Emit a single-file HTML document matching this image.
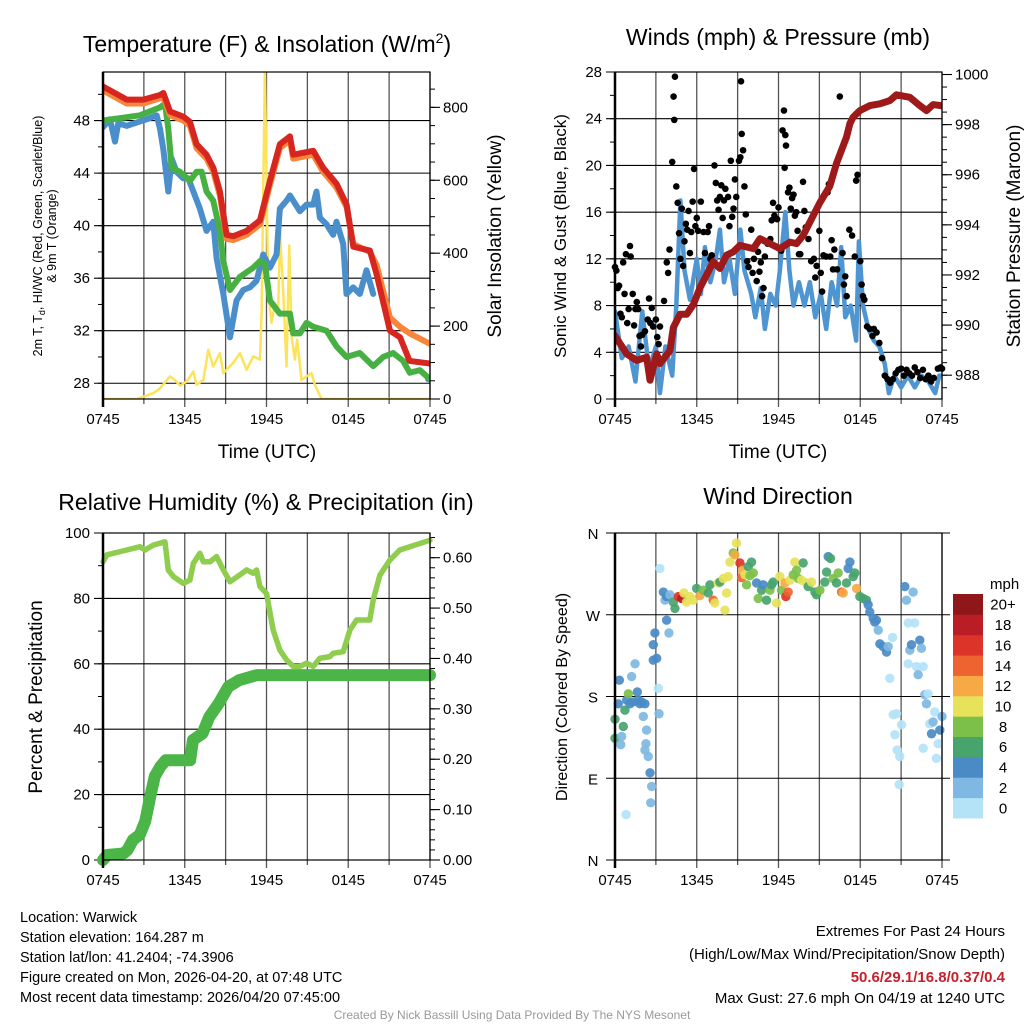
<!DOCTYPE html>
<html><head><meta charset="utf-8">
<style>
html,body{margin:0;padding:0;background:#fff;}
svg{display:block;font-family:"Liberation Sans",Arial,sans-serif;}
</style></head>
<body>
<svg id="fig" width="1024" height="1024" viewBox="0 0 1024 1024" xmlns="http://www.w3.org/2000/svg">
<rect x="0" y="0" width="1024" height="1024" fill="#fff"/>
<g id="layer"></g>
<text x="267" y="52" font-size="23" text-anchor="middle">Temperature (F) &amp; Insolation (W/m<tspan dy="-9" font-size="14">2</tspan><tspan dy="9">)</tspan></text>
<text x="778" y="45" font-size="23" text-anchor="middle">Winds (mph) &amp; Pressure (mb)</text>
<text x="266" y="510" font-size="23" text-anchor="middle">Relative Humidity (%) &amp; Precipitation (in)</text>
<text x="778" y="504" font-size="23" text-anchor="middle">Wind Direction</text>
<text transform="translate(42,236) rotate(-90)" font-size="12.5" text-anchor="middle">2m T, T<tspan dy="3" font-size="9">d</tspan><tspan dy="-3">, HI/WC (Red, Green, Scarlet/Blue)</tspan></text>
<text transform="translate(56,236) rotate(-90)" font-size="12.5" text-anchor="middle">&amp; 9m T (Orange)</text>
<text transform="translate(501,236) rotate(-90)" font-size="19" text-anchor="middle">Solar Insolation (Yellow)</text>
<text x="267" y="458" font-size="19" text-anchor="middle">Time (UTC)</text>
<text transform="translate(566,236) rotate(-90)" font-size="17" text-anchor="middle">Sonic Wind &amp; Gust (Blue, Black)</text>
<text transform="translate(1020,236) rotate(-90)" font-size="19" text-anchor="middle">Station Pressure (Maroon)</text>
<text x="778" y="458" font-size="19" text-anchor="middle">Time (UTC)</text>
<text transform="translate(42,697) rotate(-90)" font-size="19" text-anchor="middle">Percent &amp; Precipitation</text>
<text transform="translate(567,697) rotate(-90)" font-size="16" text-anchor="middle">Direction (Colored By Speed)</text>
<g font-size="14.5">
<text x="20" y="922">Location: Warwick</text>
<text x="20" y="942">Station elevation: 164.287 m</text>
<text x="20" y="962">Station lat/lon: 41.2404; -74.3906</text>
<text x="20" y="982">Figure created on Mon, 2026-04-20, at 07:48 UTC</text>
<text x="20" y="1002">Most recent data timestamp: 2026/04/20 07:45:00</text>
</g>
<g font-size="15" text-anchor="end">
<text x="1005" y="936">Extremes For Past 24 Hours</text>
<text x="1005" y="959">(High/Low/Max Wind/Precipitation/Snow Depth)</text>
<text x="1005" y="982" fill="#c8202a" font-weight="bold">50.6/29.1/16.8/0.37/0.4</text>
<text x="1005" y="1003">Max Gust: 27.6 mph On 04/19 at 1240 UTC</text>
</g>
<text x="512" y="1019" font-size="12" fill="#999" text-anchor="middle">Created By Nick Bassill Using Data Provided By The NYS Mesonet</text>
</svg>
<script>
const xTickLabels = ["0745","1345","1945","0145","0745"];
const redT = [0,1.74,2.96,4.18,4.43,4.92,5.9,6.38,6.87,7.6,8.1,8.58,9.07,9.56,10.54,11.52,11.88,12.25,12.98,13.72,13.96,15.43,16.16,17.14,17.88,18.37,19.59,20.08,21.06,21.8,22.5,24];
const redV = [50.6,49.6,49.6,49.95,50.1,48.7,48.3,47.9,46.2,45.4,44.4,42.6,39.3,39.2,39.6,40.4,41.9,43.4,46.2,46.8,45.4,45.7,44.4,43.2,41.6,38.4,38.1,36.3,32,31.5,29.7,29.5];
const orangeV = [50.3,49.3,49.3,49.7,49.8,48.4,48.0,47.6,45.9,45.1,44.1,42.3,39.0,38.9,39.3,40.1,41.6,43.1,45.9,46.5,45.1,45.4,44.1,42.9,41.4,38.6,38.0,37.0,33.0,32.3,31.8,31.0];
const greenT = [0,2.71,4.18,4.55,4.79,5.04,5.65,6.38,6.87,7.24,7.6,8.09,8.58,8.83,9.32,10.05,11.03,11.52,11.88,12.25,12.98,13.72,13.96,14.45,14.94,15.43,16.41,17.14,17.87,18.85,19.83,20.56,21.3,22.03,22.52,23.25,24];
const greenV = [48.0,48.4,49.0,49.3,47.4,44.4,44.1,43.4,44.1,44.1,42.6,41.9,39.6,37.3,35.1,36.1,36.8,37.3,37.1,34.3,33.3,33.3,31.8,31.8,32.6,32.3,32.0,30.8,30.0,30.3,29.3,30.0,30.3,29.7,28.8,29.0,28.3];
const blueT = [0,0.51,0.88,1.12,1.74,3.2,3.94,4.18,4.43,4.79,5.04,5.4,5.89,6.26,6.63,7.11,7.6,8.09,8.34,8.83,9.32,9.8,10.29,10.78,11.27,11.76,12.25,12.74,12.98,13.47,13.72,14.45,14.94,15.43,15.67,15.92,16.41,16.89,17.14,17.63,17.87,18.36,18.85,19.34,19.83,21,23.86,24];
const blueV = [47.5,48.1,46.4,47.8,47.6,48.1,48.4,47.4,45.8,42.6,45.1,44.1,43.6,43.6,42.6,41.3,39.6,40.3,37.5,34.8,31.5,34.3,35.1,35.3,35.8,37.8,36.8,37.8,41.3,41.9,42.3,41.1,41.6,41.6,42.6,40.6,40.1,39.3,40.3,38.6,34.8,35.3,34.8,36.6,34.8,null,28.3,28.3];
const solarT = [0,2.47,3.69,4.18,4.91,5.28,5.65,6.14,6.63,6.87,7.36,7.73,8.09,8.58,8.83,9.56,10.05,10.54,11.03,11.52,11.64,11.88,12.13,12.37,12.62,12.86,12.98,13.23,13.47,13.67,13.84,14.08,14.25,14.57,14.94,15.31,15.55,16.04,24];
const solarV = [0,0,16,29,62,52,37,48,75,39,52,135,89,126,71,99,126,80,117,108,237,900,292,209,264,237,462,292,89,421,172,108,163,52,62,71,39,0,0];
const windT = [0,0.5,1,1.5,2,2.5,3,3.3,3.7,4.2,4.5,4.8,5.1,5.5,6,6.3,6.6,7,7.4,7.7,8,8.4,8.8,9.2,9.5,10,10.3,10.7,11,11.4,11.8,12.1,12.5,12.8,13.1,13.5,13.9,14.3,14.7,15.1,15.5,15.9,16.3,16.6,16.9,17.3,17.7,17.9,18.2,18.6,19,19.4,19.8,20.1,20.5,21,21.5,22,22.5,23,23.5,23.8,24];
const windV = [7.5,3.5,4.5,1.5,7.5,2.5,4.5,0.5,4.5,2,8,17,11,8.5,12,9,13,10,12,14.5,10,12,9,14.5,11,9,7,9.5,6,9,8,11,16,11,8,10,8,10,7,9,6,10,8,13,7,8,5,13.5,8,6,5,4.5,3,0.5,2,1,2,1,2,1.5,0.5,2,2];
const gustT = [0,0.1,0.2,0.3,0.4,0.5,0.6,0.7,0.8,0.9,1,1.1,1.15,1.3,1.4,1.5,1.6,1.7,1.8,1.9,2,2.2,2.4,2.5,2.6,2.7,2.8,3,3.1,3.2,3.3,3.6,3.8,3.9,4,4.2,4.3,4.35,4.4,4.5,4.6,4.7,4.8,4.9,5,5.1,5.2,5.3,5.4,5.5,5.6,5.7,5.8,5.9,6,6.1,6.3,6.5,6.6,6.8,6.9,7,7.1,7.3,7.4,7.5,7.6,7.7,7.8,7.9,8,8.1,8.3,8.4,8.5,8.6,8.7,8.8,8.9,9.1,9.2,9.25,9.3,9.4,9.5,9.6,9.7,9.8,10,10.1,10.2,10.4,10.5,10.6,10.7,10.8,10.9,11,11.2,11.4,11.5,11.6,11.7,11.9,12,12.2,12.3,12.4,12.5,12.55,12.45,12.7,12.8,12.9,13,13.1,13.2,13.3,13.4,13.5,13.6,13.8,13.9,14,14.2,14.4,14.6,14.7,14.8,15,15.1,15.2,15.3,15.5,15.6,15.7,15.8,15.9,16,16.1,16.3,16.5,16.7,16.8,16.9,17,17.2,17.4,17.6,17.7,17.8,18,18.1,18.2,18.3,18.5,18.7,18.9,19,19.2,19.4,19.6,19.8,20,20.2,20.4,20.6,20.8,21,21.2,21.4,21.6,21.8,22,22.2,22.4,22.6,22.8,23,23.2,23.4,23.7,23.9,24];
const gustV = [11.3,11,9.5,9.7,7.3,7,11.7,9,12.4,6.5,7.7,13.1,12.2,9,6.3,7.7,8.3,7.7,5.4,4.5,5.5,5.8,6.8,8.6,6.5,7.8,6.2,6.8,5.3,4.7,6.2,8.4,11.7,10.8,12.8,20.3,25.9,23.9,27.6,18.2,16.8,14.2,12,16.3,11.4,13.5,15,14.5,16.1,12.5,14.3,16.9,19.7,14.8,15.5,14.4,16.9,14.3,12.5,14.3,14.8,12,12.3,20,18.5,17,16.2,17.3,18.3,15.5,17,18,17.3,14.8,20.4,15.6,16.3,18.8,17.3,20.4,20.7,27.2,22.7,21.3,18.2,15.8,11.8,11.3,14.5,10.8,12,10.1,12.6,10.9,11.7,8.8,9.5,12.2,13.3,13.7,15.3,16.8,15.7,15.4,16.4,12.7,23,24.7,22.6,21.7,19.8,17.7,18.1,16.3,17.2,17.5,15.7,16,14.4,12.4,12.4,18.6,16.1,14.7,13.7,11.8,12,10.4,11.4,14.4,10.8,9.2,12.3,12.2,17.7,18.4,12.2,13.6,11.1,12.8,11.1,25.9,12.5,9.8,10.5,8.8,14.5,14,12.2,18.7,19.2,11.8,9.8,8.8,8.5,6.2,6,5.4,6,5.7,4.8,3.5,2,1.7,1.4,1.7,2.2,2.5,2.6,2,2.5,2.2,2,2.7,2.3,1.8,2.5,1.7,2,1.5,1.8,2.6,2.7,2.6];
const presT = [0,0.86,1.59,2.32,2.57,3.06,3.3,4.03,4.28,4.77,5.26,5.75,6.23,6.72,7.21,7.7,8.19,8.68,9.17,10.15,10.64,11.37,12.1,12.84,13.33,13.81,14.55,15.04,15.77,16.26,16.99,17.24,17.48,17.97,18.7,19.44,20.17,20.66,21.64,22.37,22.86,23.35,24];
const presV = [989.57,988.85,988.59,988.72,987.8,988.85,988.46,988.98,989.9,990.43,990.43,990.82,991.48,992.0,992.53,992.26,992.79,992.92,993.18,993.05,993.45,993.25,993.05,993.31,993.25,993.58,994.37,994.89,995.55,996.46,997.5,998.04,998.3,998.56,998.76,998.83,998.96,999.19,999.09,998.76,998.56,998.8,998.75];
const rhT = [0,0.27,1.25,2.71,3.08,3.69,4.55,4.79,5.16,5.89,6.38,6.63,7.11,7.36,7.85,8.34,8.83,9.32,10.05,10.54,11.03,11.27,11.52,12.0,12.49,12.98,13.47,13.96,14.45,14.94,15.43,15.92,16.65,16.89,17.63,18.12,18.61,19.58,19.83,20.32,21.05,21.78,22.52,24];
const rhV = [91.2,93.3,94.3,95.8,94.8,96.3,97.3,88.7,86.7,84.6,85.6,90.7,93.8,91.2,91.2,92.8,88.7,85.1,87.2,88.7,87.7,88.7,83.6,81.5,70.3,64.2,61.2,59.2,59.2,60.2,59.2,61.7,62.2,63.2,63.7,70.3,73.4,73.4,79.5,87.1,91.7,94.8,95.8,97.8];
const precipT = [0,0.3,1.5,1.8,2.2,2.7,3.1,3.5,3.8,4.2,4.6,6.4,6.6,7.3,7.8,8.5,9.2,10.0,11.3,24];
const precipV = [0,0.01,0.013,0.02,0.04,0.05,0.077,0.13,0.166,0.185,0.198,0.198,0.238,0.251,0.284,0.311,0.344,0.357,0.367,0.367];
const dirT = [0,0,0.24,0.32,0.49,0.42,0.61,0.73,0.81,0.86,0.98,1.1,1.22,1.34,1.47,1.64,1.71,1.83,1.96,2.08,2.2,2.32,2.27,2.2,2.44,2.57,2.69,2.62,2.81,2.81,2.93,3.06,3.18,3.23,3.3,3.55,3.67,3.79,3.96,3.79,4.03,4.28,4.4,4.65,4.89,5.06,5.26,5.5,5.75,5.99,6.23,6.48,6.85,6.97,7.21,7.33,7.58,7.7,7.95,8.07,8.19,8.31,8.44,8.68,8.8,8.92,9.17,9.29,9.36,9.54,9.66,9.78,9.9,10.02,10.15,10.39,10.51,10.76,10.88,11.12,11.37,11.49,11.61,11.86,12.1,12.22,12.47,12.54,12.71,12.84,13.08,13.2,13.33,13.45,13.69,13.81,14.06,14.18,14.43,14.67,14.79,15.04,15.4,15.53,15.65,15.82,16.01,16.26,16.38,16.63,16.75,16.99,17.11,17.24,17.48,17.6,17.73,17.97,18.22,18.46,18.58,18.7,18.95,19.07,19.19,19.32,19.44,19.68,19.93,20.05,20.17,20.37,20.42,20.54,20.66,20.71,20.86,20.9,21.03,21.27,21.39,21.52,21.64,21.76,21.88,22.0,21.52,22.13,22.25,22.37,22.49,22.62,22.74,22.86,22.98,23.1,22.62,23.23,23.35,23.47,23.59,23.72,23.84,24];
const dirV = [155,134,172,198,136,127,147,165,50,176,183,172,202,174,216,185,176,172,174,158,172,143,128,121,114,96,81,63,220,237,250,222,189,161,321,295,286,264,250,290,292,284,277,290,288,294,284,290,286,299,291,297,294,303,286,283,305,306,310,275,294,312,328,338,336,349,327,311,319,314,303,323,313,328,316,305,288,297,303,286,297,303,306,283,312,297,305,290,295,308,314,328,319,310,308,327,305,301,306,295,292,297,306,317,334,332,310,305,316,295,294,305,321,328,312,316,299,290,288,286,281,273,266,262,264,253,238,235,229,235,200,245,160,138,161,121,83,114,149,301,286,261,231,237,295,261,216,213,204,242,233,213,182,172,183,150,123,139,152,163,112,128,143,158];
const dirSpd = [7,7,4,4,3,2,6,7,1,4,8,4,3,4,3,5,4,4,5,3,5,3,3,3,3,5,3,3,5,5,5,5,1,2,1,4,3,5,3,5,3,7,7,16,18,11,10,10,10,7,12,8,7,7,14,11,10,6,10,10,10,10,10,9,12,10,17,15,12,10,9,6,8,6,8,5,8,6,4,6,8,7,6,10,10,9,12,16,15,11,8,10,9,8,10,7,11,6,10,7,6,8,6,6,5,6,8,7,8,14,13,6,5,5,6,6,12,7,6,6,5,4,4,5,4,3,4,4,4,3,1,1,1,1,1,1,1,1,1,4,3,1,3,4,3,1,1,1,3,4,3,1,3,3,1,1,1,4,3,1,1,1,4,3];
const colorBarLabels = ["0","2","4","6","8","10","12","14","16","18","20+"];
const colorBarColors = ["#b4e2f6","#7fb8e2","#4a8bc6","#48a46d","#7cc04a","#e6e25a","#f6a945","#ee6430","#dc3429","#bb1d26","#8f171a"];

const NS = "http://www.w3.org/2000/svg";
const layer = document.getElementById("layer");
function mk(tag, attrs, parent){
  const e = document.createElementNS(NS, tag);
  for (const k in attrs) e.setAttribute(k, attrs[k]);
  (parent||layer).appendChild(e);
  return e;
}
function lin(d0,d1,r0,r1){ return v => r0 + (v-d0)/(d1-d0)*(r1-r0); }
function frame(b, name){
  const xs = lin(0,24,b.x0,b.x1);
  for (let h=0; h<=24; h+=3){
    const x = xs(h);
    const g = mk("line",{x1:x,x2:x,y1:b.y0,y2:b.y1+(h%6===0?8:5),stroke:"#555","stroke-width":1.3});
    
    
  }
  xTickLabels.forEach((lab,i)=>{
    const t = mk("text",{x:xs(i*6),y:b.y1+25,"font-size":15,"text-anchor":"middle"});
    t.textContent = lab;
    
    
  });
  return xs;
}
function leftAxis(b, name, d0, d1, step, minor, labels, fmt){
  const ys = lin(d0,d1,b.y1,b.y0);
  for (let v=Math.ceil(d0/minor)*minor; v<=d1+1e-9; v+=minor){
    const y = ys(v);
    const tk = mk("line",{x1:b.x0-5,x2:b.x0,y1:y,y2:y,stroke:"#000","stroke-width":1});
    
    
  }
  labels.forEach(v=>{
    const y = ys(v);
    const gl = mk("line",{x1:b.x0-9,x2:b.x1,y1:y,y2:y,stroke:"#000","stroke-width":1.1});
    
    
    const t = mk("text",{x:b.x0-13,y:y+5,"font-size":15,"text-anchor":"end"});
    t.textContent = fmt ? fmt(v) : v;
    
    
  });
  return ys;
}
function rightAxis(b, name, d0, d1, labels, minor, fmt){
  const ys = lin(d0,d1,b.y1,b.y0);
  for (let v=Math.ceil(d0/minor)*minor; v<=d1+1e-9; v+=minor){
    const y = ys(v);
    const tk = mk("line",{x1:b.x1,x2:b.x1+5,y1:y,y2:y,stroke:"#000","stroke-width":1});
    
    
  }
  labels.forEach(v=>{
    const y = ys(v);
    const tk = mk("line",{x1:b.x1,x2:b.x1+10,y1:y,y2:y,stroke:"#000","stroke-width":1.1});
    
    
    const t = mk("text",{x:b.x1+13,y:y+5,"font-size":15});
    t.textContent = fmt ? fmt(v) : v;
    
    
  });
  return ys;
}
function border(b, name){
  const r = mk("rect",{x:b.x0,y:b.y0,width:b.x1-b.x0,height:b.y1-b.y0,fill:"none",stroke:"#000","stroke-width":1.2});
  
  
  const l = mk("line",{x1:b.x0,x2:b.x0,y1:b.y0,y2:b.y1+8,stroke:"#000","stroke-width":2.5});
  
  
}
function series(T, V, xs, ys, color, w, name, clip){
  let d = "", pen = false;
  for (let i=0;i<T.length;i++){
    if (V[i]===null){ pen=false; continue; }
    const x = xs(T[i]), y = ys(V[i]);
    d += (pen?"L":"M") + x.toFixed(2) + " " + y.toFixed(2) + " ";
    pen = true;
  }
  const p = mk("path",{d:d,fill:"none",stroke:color,"stroke-width":w,"stroke-linejoin":"round","stroke-linecap":"round"});
  if (clip) p.setAttribute("clip-path", clip);
  
  
  return p;
}
function clipFor(b, id){
  let defs = document.getElementById("defs") || mk("defs",{id:"defs"});
  const c = mk("clipPath",{id:id}, defs);
  mk("rect",{x:b.x0,y:b.y0,width:b.x1-b.x0,height:b.y1-b.y0}, c);
  return "url(#"+id+")";
}

const B1 = {x0:103,x1:430,y0:72,y1:399};
const xs1 = frame(B1,"temperature");
const ys1 = leftAxis(B1,"temperature",26.8,51.7,4,2,[28,32,36,40,44,48]);
const ys1r = rightAxis(B1,"insolation",0,897,[0,200,400,600,800],50);
const c1 = clipFor(B1,"c1");
series(solarT, solarV, xs1, ys1r, "#fde35a", 2.5, "solar-insolation-line", c1);
series(blueT, blueV, xs1, ys1, "#4a8fcb", 6, "heat-index-windchill-line", c1);
series(greenT, greenV, xs1, ys1, "#47b043", 6, "dewpoint-line", c1);
series(redT, orangeV, xs1, ys1, "#f8863a", 6, "temperature-9m-line", c1);
series(redT, redV, xs1, ys1, "#d7261f", 6, "temperature-2m-line", c1);
border(B1,"temperature");

const B2 = {x0:615,x1:942,y0:72,y1:399};
const xs2 = frame(B2,"winds");
const ys2 = leftAxis(B2,"winds",0,28,4,2,[0,4,8,12,16,20,24,28]);
const ys2r = rightAxis(B2,"pressure",987.05,1000.1,[988,990,992,994,996,998,1000],0.5);
const c2 = clipFor(B2,"c2");
series(windT, windV, xs2, ys2, "#4e95d1", 4.5, "sonic-wind-line", c2);
gustT.forEach((t,i)=>{
  const c = mk("circle",{cx:xs2(t),cy:ys2(gustV[i]),r:3.3,fill:"#000"});
  
  
});
series(presT, presV, xs2, ys2r, "#9e1a1a", 7, "station-pressure-line", c2);
border(B2,"winds");

const B3 = {x0:103,x1:430,y0:533,y1:860};
const xs3 = frame(B3,"humidity");
const ys3 = leftAxis(B3,"humidity",0,100,20,10,[0,20,40,60,80,100]);
const ys3r = rightAxis(B3,"precipitation",0,0.649,[0,0.1,0.2,0.3,0.4,0.5,0.6],0.02,v=>v.toFixed(2));
series(rhT, rhV, xs3, ys3, "#8fcd4f", 5.5, "relative-humidity-line");
series(precipT, precipV, xs3, ys3r, "#4bb647", 12, "precipitation-line");
border(B3,"humidity");

const B4 = {x0:615,x1:942,y0:533,y1:860};
const xs4 = frame(B4,"direction");
const ys4 = lin(0,360,B4.y1,B4.y0);
["N","E","S","W","N"].forEach((lab,i)=>{
  const y = ys4(i*90);
  const gl = mk("line",{x1:B4.x0-9,x2:B4.x1+8,y1:y,y2:y,stroke:"#000","stroke-width":1.1});
  
  
  const t = mk("text",{x:B4.x0-22,y:y+6,"font-size":15,"text-anchor":"middle"});
  t.textContent = lab;
  
  
});
dirT.forEach((t,i)=>{
  const bin = Math.min(10, Math.floor(dirSpd[i]/2));
  const c = mk("circle",{cx:xs4(t),cy:ys4(dirV[i]),r:4.7,fill:colorBarColors[bin],"fill-opacity":0.92});
  
  
});
border(B4,"direction");
const cbTop = 594, cbH = 20.36;
const mph = mk("text",{x:990,y:589,"font-size":15});
mph.textContent = "mph";


colorBarLabels.forEach((lab,i)=>{
  const y = cbTop + (10-i)*cbH;
  const r = mk("rect",{x:953,y:y,width:30,height:cbH+0.5,fill:colorBarColors[i]});
  
  
  const t = mk("text",{x:1003,y:y+cbH/2+5.5,"font-size":15,"text-anchor":"middle"});
  t.textContent = lab;
  
  
});
</script>
</body></html>
